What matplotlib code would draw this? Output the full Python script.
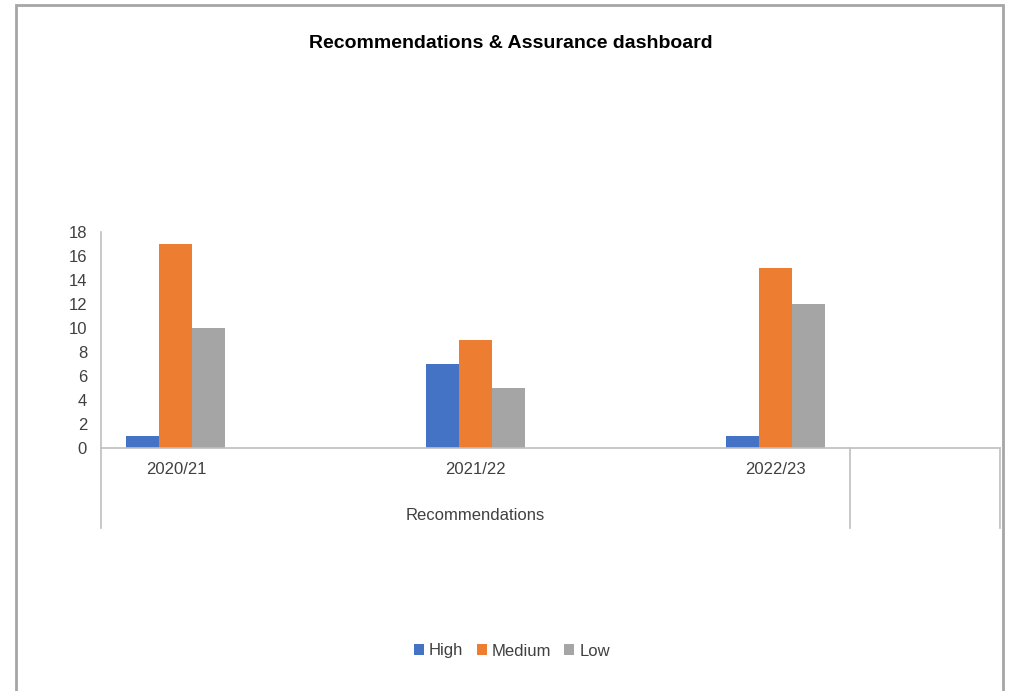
import matplotlib
matplotlib.use('Agg')
import matplotlib.pyplot as plt
import matplotlib.transforms as mtransforms
from matplotlib.patches import Rectangle
import numpy as np

years = ['2020/21', '', '2021/22', '', '2022/23', '']
group_label = 'Recommendations'
series_names = ['High', 'Medium', 'Low']
high = [1, 0, 7, 0, 1, 0]
medium = [17, 0, 9, 0, 15, 0]
low = [10, 0, 5, 0, 12, 0]
colors = ['#4472C4', '#ED7D31', '#A5A5A5']

plt.rcParams['font.family'] = ['Liberation Sans Narrow', 'Liberation Sans', 'DejaVu Sans']

W, H = 1009, 691
fig = plt.figure(figsize=(W / 100, H / 100), dpi=100)

# chart border (open at the bottom)
fig.patches.append(Rectangle((16 / W, -0.05), 987 / W, 1.05 - 5 / H, transform=fig.transFigure,
                             fill=False, edgecolor='#a6a6a6', lw=2))

ax = fig.add_axes([101 / W, (H - 448) / H, 899 / W, 216 / H])

x = np.arange(len(years))
w = 0.22
data = [high, medium, low]
for i, (name, vals) in enumerate(zip(series_names, data)):
    ax.bar(x + (i - 1) * w, vals, width=w, color=colors[i], label=name)

ax.set_xlim(-0.5, len(years) - 0.5)
ax.set_ylim(0, 18)
ax.set_yticks(range(0, 19, 2))
ax.tick_params(axis='y', length=0, labelsize=12, colors='#404040', pad=10)
ax.set_xticks([])
for s in ['top', 'right']:
    ax.spines[s].set_visible(False)
ax.spines['left'].set_color('#bfbfbf')
ax.spines['bottom'].set_color('#bfbfbf')
ax.spines['left'].set_linewidth(1.2)
ax.spines['bottom'].set_linewidth(1.2)

# multi-level category axis
trans = mtransforms.blended_transform_factory(ax.transData, ax.transAxes)
for xv in [-0.5, 4.5, 5.5]:
    ax.plot([xv, xv], [0, -80 / 216], transform=trans, color='#bfbfbf', lw=1.2, clip_on=False)
for xi, lab in zip(x, years):
    if lab:
        ax.text(xi, -22 / 216, lab, transform=trans, ha='center', va='center',
                fontsize=12, color='#404040')
ax.text(2, -67 / 216, group_label, transform=trans, ha='center', va='center',
        fontsize=12, color='#404040')

fig.text(511 / W, 1 - 44 / H, 'Recommendations & Assurance dashboard', ha='center', va='center',
         fontsize=14, fontweight='bold', color='black')

handles, labels = ax.get_legend_handles_labels()
fig.legend(handles, labels, loc='center', bbox_to_anchor=(512 / W, 1 - 651 / H), ncol=3,
           frameon=False, fontsize=12, handlelength=0.6, handleheight=0.6,
           handletextpad=0.3, columnspacing=0.8, labelcolor='#404040')

fig.savefig('out.png', dpi=100)
